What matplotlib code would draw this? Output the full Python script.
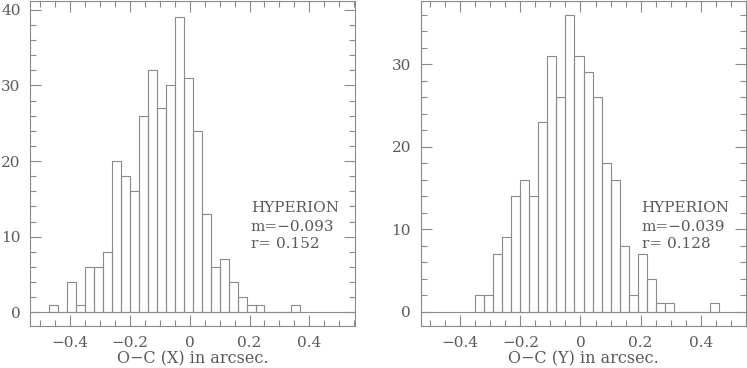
#histograms of O-C residuals for Hyperion, X and Y
import numpy as np
import matplotlib
matplotlib.use("Agg")
import matplotlib.pyplot as plt
from matplotlib.ticker import MultipleLocator, FuncFormatter

bin_width = 0.03

# O-C (X): counts per bin, first bin starts at -0.47
x_start = -0.47
x_counts = [1, 0, 4, 1, 6, 6, 8, 20, 18, 16, 26, 32, 27, 30, 39, 31,
            24, 13, 6, 7, 4, 2, 1, 1, 0, 0, 0, 1]
x_stats = ["HYPERION", "m=\u22120.093", "r= 0.152"]

# O-C (Y): counts per bin, first bin starts at -0.35
y_start = -0.35
y_counts = [2, 2, 7, 9, 14, 16, 14, 23, 31, 26, 36, 31, 29, 26, 18, 16,
            8, 2, 7, 4, 1, 1, 0, 0, 0, 0, 1]
y_stats = ["HYPERION", "m=\u22120.039", "r= 0.128"]

line_col = "#8a8a8a"
text_col = "#5a5a5a"
plt.rcParams["font.family"] = ["DejaVu Serif"]


def fmt(v, pos):
    s = "%g" % round(v, 2)
    return s.replace("-", "\u2212")


def draw(ax, start, counts, stats, xlabel, xlim, ylim):
    lefts = start + bin_width * np.arange(len(counts))
    ax.bar(lefts, counts, width=bin_width, align="edge",
           facecolor="none", edgecolor=line_col, linewidth=0.8)
    ax.axhline(0, color=line_col, linewidth=0.8)
    ax.set_xlim(*xlim)
    ax.set_ylim(*ylim)
    ax.xaxis.set_major_locator(MultipleLocator(0.2))
    ax.xaxis.set_minor_locator(MultipleLocator(0.05))
    ax.yaxis.set_major_locator(MultipleLocator(10))
    ax.yaxis.set_minor_locator(MultipleLocator(2))
    ax.xaxis.set_major_formatter(FuncFormatter(fmt))
    ax.tick_params(which="both", direction="in", top=True, right=True,
                   color=line_col, width=0.8, labelcolor=text_col,
                   labelsize=11, pad=7)
    ax.tick_params(which="major", length=8)
    ax.tick_params(which="minor", length=4)
    for sp in ax.spines.values():
        sp.set_color(line_col)
        sp.set_linewidth(0.8)
    ax.set_xlabel(xlabel, fontsize=11.5, color=text_col, va="baseline")
    ax.xaxis.set_label_coords(0.5, -0.114)
    for txt, yy in zip(stats, [0.35, 0.292, 0.239]):
        ax.text(0.679, yy, txt, transform=ax.transAxes, fontsize=11,
                color=text_col, va="baseline", ha="left")


fig = plt.figure(figsize=(7.47, 3.68), dpi=100)
ax1 = fig.add_axes([30.3 / 747, 42 / 368, 324.7 / 747, 325 / 368])
ax2 = fig.add_axes([420.7 / 747, 42 / 368, 325.3 / 747, 325 / 368])

draw(ax1, x_start, x_counts, x_stats, "O\u2212C (X) in arcsec.",
     (-0.534, 0.553), (-1.8, 41.15))
draw(ax2, y_start, y_counts, y_stats, "O\u2212C (Y) in arcsec.",
     (-0.532, 0.551), (-1.73, 37.66))

fig.savefig("out.png", dpi=100)
